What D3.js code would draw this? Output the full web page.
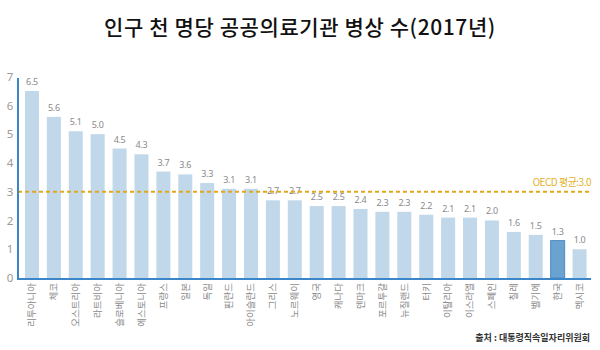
<!DOCTYPE html>
<html><head><meta charset="utf-8">
<script src="https://cdn.jsdelivr.net/npm/d3@7"></script>
<style>
html,body{margin:0;padding:0;background:#fff;}
svg{display:block;font-family:"Noto Sans CJK KR","Noto Sans",sans-serif;}
</style></head>
<body>
<svg id="c" width="600" height="350"></svg>
<script>
const categories = ["리투아니아","체코","오스트리아","라트비아","슬로베니아","에스토니아","프랑스","일본","독일","핀란드","아이슬란드","그리스","노르웨이","영국","캐나다","덴마크","포르투갈","뉴질랜드","터키","이탈리아","이스라엘","스페인","칠레","벨기에","한국","멕시코"];
const values = [6.5,5.6,5.1,5.0,4.5,4.3,3.7,3.6,3.3,3.1,3.1,2.7,2.7,2.5,2.5,2.4,2.3,2.3,2.2,2.1,2.1,2.0,1.6,1.5,1.3,1.0];
const yTicks = [0,1,2,3,4,5,6,7];
const oecdAvg = 3.0;
const highlight = "한국";
const title = "인구 천 명당 공공의료기관 병상 수(2017년)";
const oecdLabel = "OECD 평균:3.0";
const source = "출처 : 대통령직속일자리위원회";

const svg = d3.select("#c");
const x = d3.scaleBand().domain(categories).range([21, 590.5]).paddingInner(0.36).paddingOuter(0.18);
const y = d3.scaleLinear().domain([0,7]).range([278, 76.6]);

svg.append("text").attr("x",300).attr("y",35).attr("text-anchor","middle")
  .attr("font-size",21).attr("font-weight",500).attr("letter-spacing","0.6").attr("fill","#111").text(title);

// y tick labels
const yAxis = d3.axisLeft(y).tickValues(yTicks).tickSize(0).tickPadding(0).tickFormat(d3.format("d"));
const ya = svg.append("g").attr("transform","translate(10,0)").call(yAxis);
ya.select(".domain").remove();
ya.selectAll("text").attr("font-size",11.5).attr("fill","#999").attr("text-anchor","middle").attr("font-family","'Noto Sans',sans-serif");

// bars
svg.append("g").selectAll("rect").data(categories).join("rect")
  .attr("x", d=>x(d)).attr("width", x.bandwidth())
  .attr("y", (d,i)=>y(values[i])).attr("height",(d,i)=>y(0)-y(values[i]))
  .attr("fill", d=> d===highlight ? "#6aa2d0" : "#c0d8ea")
  .attr("stroke", d=> d===highlight ? "#4f8cc2" : "none").attr("stroke-width",1);

// value labels
svg.append("g").selectAll("text").data(categories).join("text")
  .attr("x", d=>x(d)+x.bandwidth()/2).attr("y",(d,i)=>y(values[i])-6)
  .attr("text-anchor","middle").attr("font-size",9).attr("fill","#8a8a8a")
  .attr("font-family","'Noto Sans',sans-serif").attr("letter-spacing","-0.3")
  .text((d,i)=>d3.format(".1f")(values[i]));

// OECD line
svg.append("line").attr("x1",18).attr("x2",592).attr("y1",y(oecdAvg)).attr("y2",y(oecdAvg))
  .attr("stroke","#e3a71c").attr("stroke-width",2).attr("stroke-dasharray","4,3");
svg.append("text").attr("x",591).attr("y",y(oecdAvg)-6).attr("text-anchor","end")
  .attr("font-size",10).attr("fill","#e2b22a").attr("letter-spacing","-0.5").text(oecdLabel);

// x labels
const xa = d3.axisBottom(x).tickSize(0).tickPadding(0);
const xg = svg.append("g").attr("transform",`translate(0,${y(0)})`).call(xa);
xg.select(".domain").remove();
xg.selectAll("text").attr("transform","rotate(-90)").attr("text-anchor","end")
  .attr("x",-5).attr("y",0).attr("dy","0.35em").attr("font-size",9.5).attr("fill","#8a8a8a")
  .attr("font-family","'Noto Sans CJK KR',sans-serif");

svg.append("line").attr("x1",18).attr("x2",591).attr("y1",279).attr("y2",279).attr("stroke","#3b86c8").attr("stroke-width",2);
svg.append("line").attr("x1",18).attr("x2",18).attr("y1",78).attr("y2",280).attr("stroke","#3b86c8").attr("stroke-width",2);

svg.append("text").attr("x",590).attr("y",341).attr("text-anchor","end")
  .attr("font-size",9).attr("font-weight",700).attr("fill","#333").text(source);
</script>
</body></html>
